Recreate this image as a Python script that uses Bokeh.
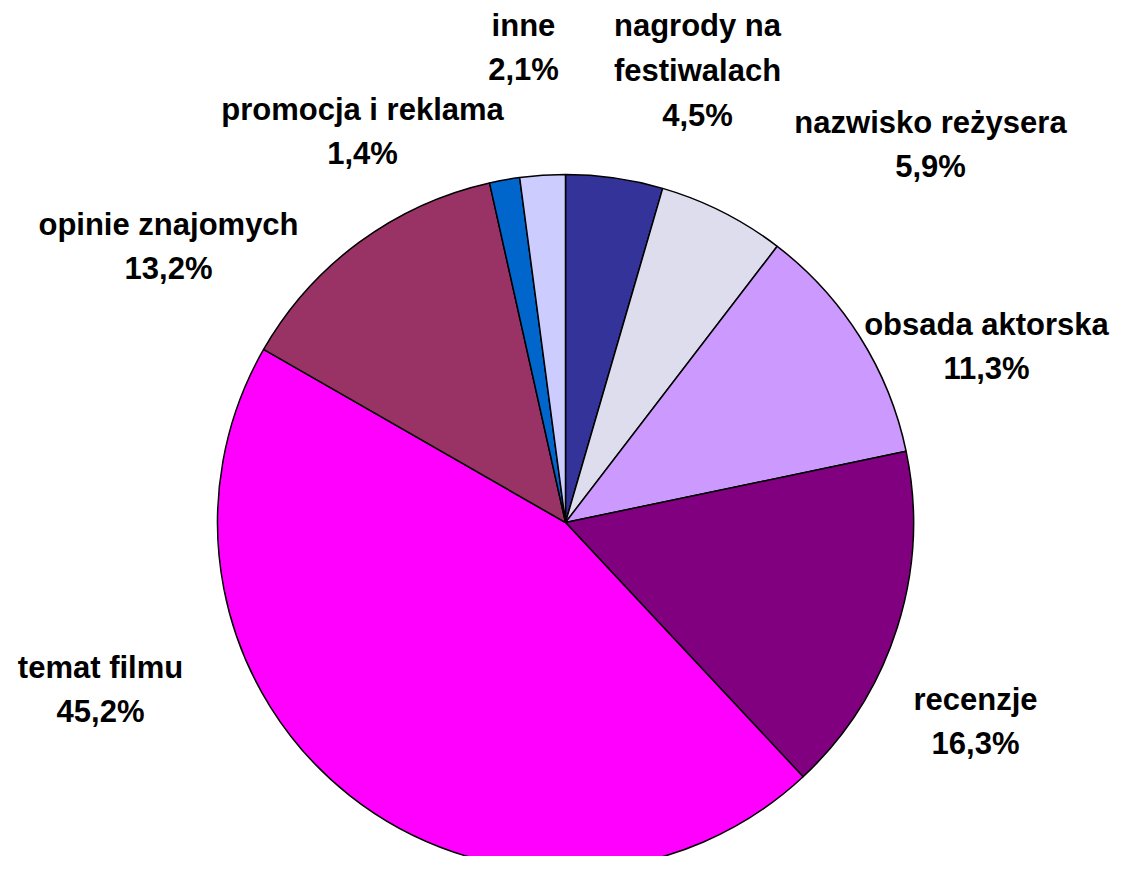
import math
from bokeh.plotting import figure
from bokeh.models import Range1d, ColumnDataSource
from bokeh.core.properties import value
from bokeh.embed import file_html
from bokeh.resources import INLINE

# ---- data ----
categories = ["nagrody na\nfestiwalach", "nazwisko reżysera", "obsada aktorska", "recenzje",
              "temat filmu", "opinie znajomych", "promocja i reklama", "inne"]
values = [4.5, 5.9, 11.3, 16.3, 45.2, 13.2, 1.4, 2.1]
value_labels = ["4,5%", "5,9%", "11,3%", "16,3%", "45,2%", "13,2%", "1,4%", "2,1%"]
colors = ["#333399", "#DDDDEE", "#CC99FF", "#800080", "#FF00FF", "#993366", "#0066CC", "#CCCCFF"]

# ---- layout (label anchors in screen pixels) ----
label_x = [697, 930, 986, 975, 100, 168, 362, 523]
label_y = [70, 144, 346, 721, 689, 246, 131, 47]

W, H = 1116, 856
cx, cy_screen, R = 565, 522, 348


def sy(y):
    return 872 - y

total = sum(values)
starts, ends = [], []
acc = 0.0
for v in values:
    starts.append(math.pi / 2 - 2 * math.pi * acc / total)
    acc += v
    ends.append(math.pi / 2 - 2 * math.pi * acc / total)

src = ColumnDataSource(dict(start=starts, end=ends, color=colors))

p = figure(width=W, height=H, output_backend="svg", toolbar_location=None,
           x_range=Range1d(0, W), y_range=Range1d(872 - H, 872),
           min_border=0)
p.axis.visible = False
p.grid.visible = False
p.outline_line_color = None
p.background_fill_color = "white"

p.wedge(x=cx, y=sy(cy_screen), radius=R, start_angle="start", end_angle="end",
        direction="clock", fill_color="color", line_color="black", line_width=1.5,
        source=src)

texts = [c + "\n" + v for c, v in zip(categories, value_labels)]
tsrc = ColumnDataSource(dict(x=label_x, y=[sy(y) for y in label_y], t=texts))
p.text(x="x", y="y", text="t", source=tsrc, text_align="center", text_baseline="middle",
       text_font=value("Liberation Sans"), text_font_style="bold", text_font_size="31px",
       text_line_height=1.28, text_color="black")

open("out.html", "w").write(file_html(p, INLINE))
